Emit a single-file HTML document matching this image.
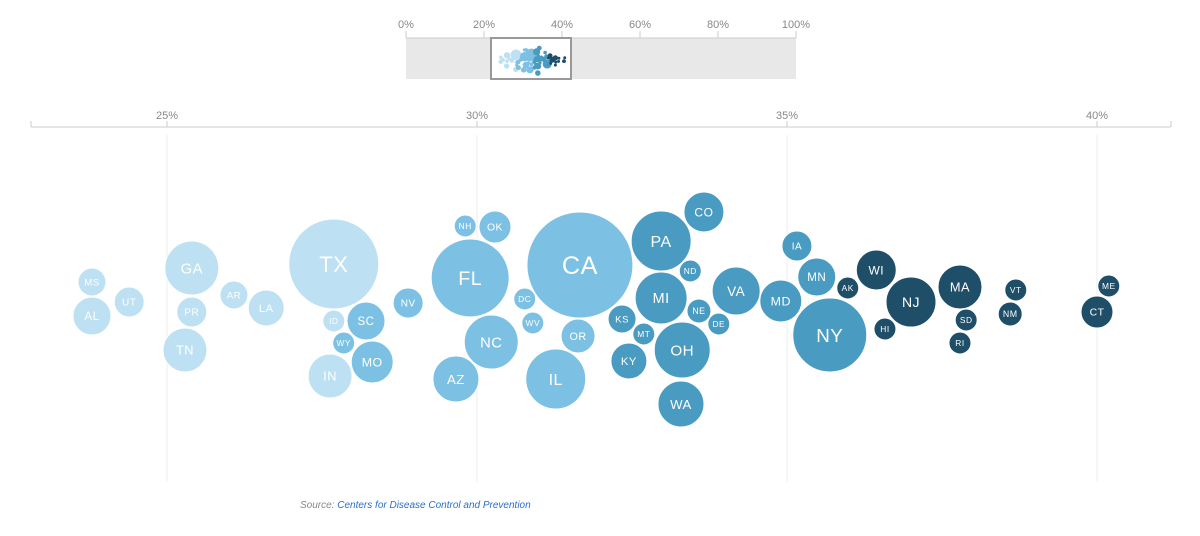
<!DOCTYPE html>
<html><head><meta charset="utf-8"><style>
html,body{margin:0;padding:0;background:#fff;}
svg{display:block;font-family:"Liberation Sans",sans-serif;}
</style></head><body>
<svg id="chart" width="1200" height="536"></svg>
<script>
const states=["MS","AL","UT","GA","PR","TN","AR","LA","TX","ID","SC","WY","IN","MO","NV","NH","OK","FL","DC","WV","NC","AZ","CA","OR","IL","PA","CO","ND","MI","KS","NE","DE","MT","KY","OH","WA","VA","MD","IA","MN","NY","AK","WI","HI","NJ","MA","SD","RI","VT","NM","ME","CT"];
const values=[23.79,23.79,24.39,25.40,25.40,25.29,26.08,26.60,27.69,27.69,28.21,27.85,27.63,28.31,28.89,29.81,30.29,29.89,30.77,30.90,30.23,29.66,31.66,31.63,31.27,32.97,33.66,33.44,32.97,32.34,33.58,33.90,32.69,32.45,33.31,33.29,34.18,34.90,35.16,35.48,35.69,35.98,36.44,36.58,37.0,37.79,37.89,37.79,38.69,38.60,40.19,40.0];
const sizes=[14,19,15,27,15,22,14,18,45,11,19,11,22,21,15,11,16,39,11,11,27,23,53,17,30,30,20,11,26,14,12,11,11,18,28,23,24,21,15,19,37,11,20,11,25,22,11,11,11,12,11,16];
// layout offsets from swarm center (not data)
const swarmDy=[17,51,37,3,47,85,30,43,-1,56,56,78,111,97,38,-39,-38,13,34,58,77,114,0,71,114,-24,-53,6,33,54,46,59,69,96,85,139,26,36,-19,12,70,23,5,64,37,22,55,78,25,49,21,47];
const topTicks=["0%","20%","40%","60%","80%","100%"];
const mainTicks=[25,30,35,40];

const NS="http://www.w3.org/2000/svg";
const svg=document.getElementById('chart');
function mk(t,a,p){const e=document.createElementNS(NS,t);for(const k in a)e.setAttribute(k,a[k]);(p||svg).appendChild(e);return e;}
const x=v=>167+(v-25)*62;
const mx=v=>406+v*3.9;
const color=v=>v<27.8?"#bde0f2":v<32.1?"#7cc1e4":v<35.85?"#4a9bc2":"#1f4e69";

// mini overview
const mini=mk('g',{});


const bg=mk('rect',{x:406,y:38,width:390,height:41,fill:'#e8e8e8'},mini);


mk('line',{x1:406,x2:796,y1:38,y2:38,stroke:'#ccc'},mini);
topTicks.forEach((t,i)=>{
  const px=mx(i*20);
  mk('line',{x1:px,x2:px,y1:31,y2:38,stroke:'#ccc'},mini);
  const tx=mk('text',{x:px,y:28,'text-anchor':'middle','font-size':11,fill:'#888'},mini);
  tx.textContent=t;
  
  
});
const win=mk('rect',{x:491,y:38,width:80,height:41,fill:'#fff',stroke:'#999','stroke-width':2},mini);


states.forEach((s,i)=>{
  const c=mk('circle',{cx:mx(values[i])+2,cy:58+swarmDy[i]*0.13-3,r:Math.max(1.5,sizes[i]*0.12),fill:color(values[i])},mini);
  
  
});

// main axis
const ax=mk('g',{});


mk('line',{x1:31,x2:1171,y1:127,y2:127,stroke:'#ccc'},ax);
[31,1171].forEach(px=>mk('line',{x1:px,x2:px,y1:121,y2:127,stroke:'#ccc'},ax));
mainTicks.forEach(v=>{
  const px=x(v);
  mk('line',{x1:px,x2:px,y1:121,y2:127,stroke:'#ccc'},ax);
  const g=mk('line',{x1:px,x2:px,y1:135,y2:482,stroke:'#eee'},ax);
  
  
  const t=mk('text',{x:px,y:119,'text-anchor':'middle','font-size':11,fill:'#888'},ax);
  t.textContent=v+'%';
  
  
});

// bubbles
states.forEach((s,i)=>{
  const g=mk('g',{});
  
  
  const cx=x(values[i]),cy=265+swarmDy[i],r=sizes[i];
  mk('circle',{cx:cx,cy:cy,r:r,fill:color(values[i]),stroke:'#fff','stroke-width':1},g);
  const fs=4+r*0.4;
  const t=mk('text',{x:cx,y:cy+fs*0.36,'text-anchor':'middle','font-size':fs.toFixed(1),fill:'#fff','letter-spacing':'0.5'},g);
  t.textContent=s;
});

const src=mk('text',{x:300,y:508,'font-size':10,'font-style':'italic',fill:'#888'});


src.textContent='Source: ';
const link=mk('tspan',{fill:'#2a6fc9'},src);
link.textContent='Centers for Disease Control and Prevention';


</script>
</body></html>
